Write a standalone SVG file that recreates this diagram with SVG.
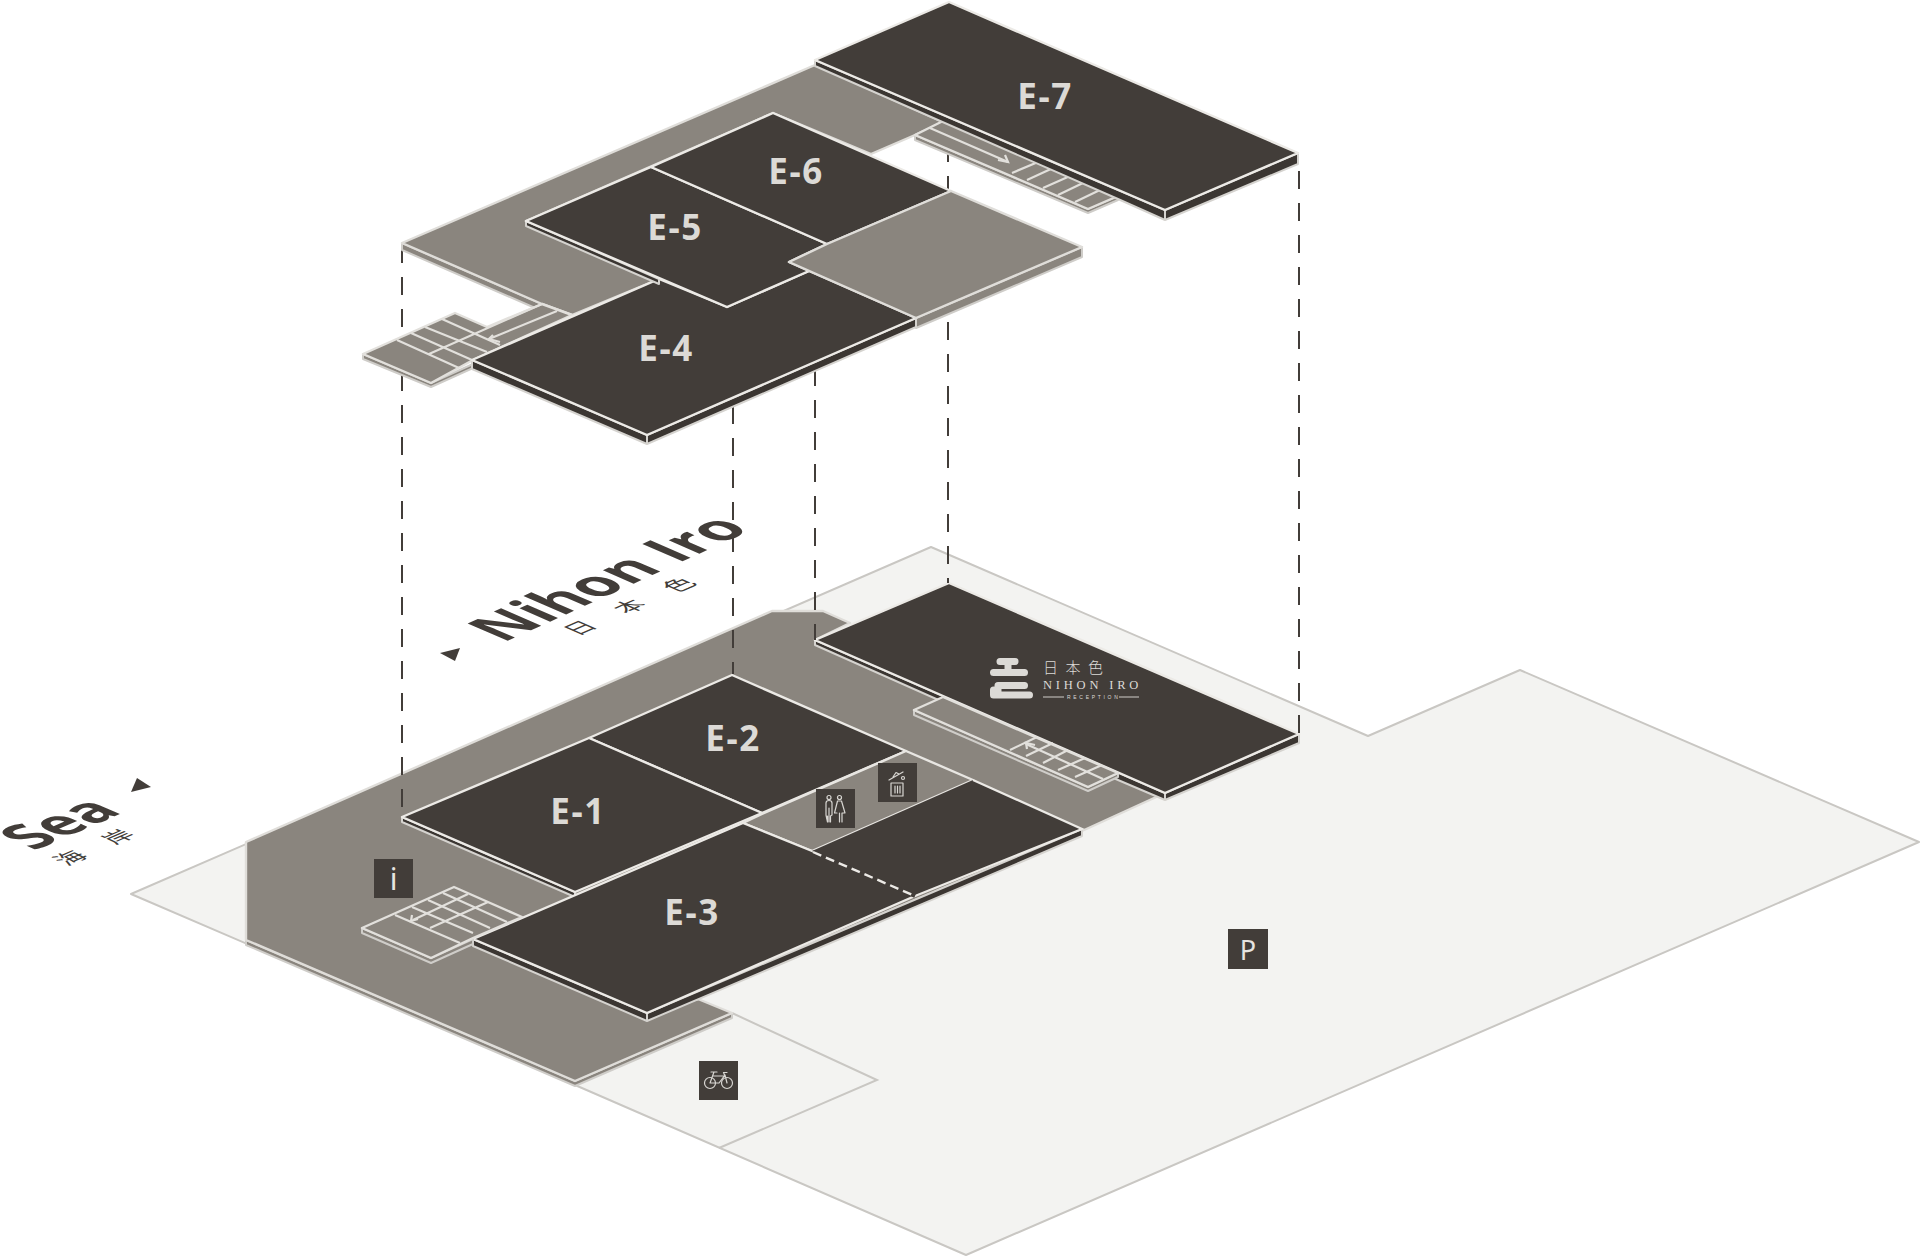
<svg xmlns="http://www.w3.org/2000/svg" width="1920" height="1257" viewBox="0 0 1920 1257">
<style>
.ground{fill:#f3f3f1;stroke:#c9c7c3;stroke-width:2;stroke-linejoin:round}
.div{fill:none;stroke:#c9c7c3;stroke-width:2}
.gray{fill:#8a857e;stroke:#dfddd9;stroke-width:2.400;stroke-linejoin:round}
.gwall{fill:#8a857e;stroke:#cfcdc9;stroke-width:2;stroke-linejoin:round}
.dark{fill:#423d39;stroke:#eceae6;stroke-width:2.400;stroke-linejoin:round}
.wall{fill:#3b3632;stroke:#d5d3cf;stroke-width:2;stroke-linejoin:round}
.ln{fill:none;stroke:#e2e0dc;stroke-width:2.200}
.dash{stroke:#423d39;stroke-width:2;stroke-dasharray:18 14;fill:none}
.lab{font-family:"Noto Sans","Open Sans",sans-serif;font-weight:700;font-size:35px;fill:#dcdad6;text-anchor:middle;letter-spacing:1.500px}
.ico{fill:#423d39}
.ig{fill:none;stroke:#d8d6d2;stroke-width:1.200;stroke-linecap:round;stroke-linejoin:round}
.big{font-family:"Open Sans","Noto Sans",sans-serif;font-weight:700;font-size:48px;fill:#423d39}
.cjk{font-family:"Noto Sans CJK JP",sans-serif;font-weight:400;font-size:19px;fill:#423d39;letter-spacing:24px}
.t{fill:#423d39}
.it{font-family:"Noto Sans","Open Sans",sans-serif;font-size:30px;fill:#e6e4e0;text-anchor:middle}
</style>

<g id="ground">
<polygon class="ground" points="131,894 931,547 1368,736 1520,670 1919,842 966,1255 575,1085"/>
<path class="div" d="M732 1013L877 1080L719 1148"/>
</g>

<g id="lower-floor">
<path class="gwall" d="M246 940L575 1081L732 1013V1018L575 1086L246 945Z"/>
<polygon class="gray" points="246,842 772,611 823,611 850,623 815,640 1165,793 1082,831 915,900 647,1013 698,999 732,1013 575,1081 246,940"/>
</g>

<g id="reception-E7-lower">
<path class="wall" d="M815 640L1165 793L1299 734V743L1165 800L1118 780L815 645ZM1165 793V800"/>
<polygon class="dark" points="949,583 815,640 1165,793 1299,734"/>
<g id="reception-logo">
<path d="M1000 661.500H1015M993.500 672.500H1024.500M1008 661.500V672.500M1024.500 685.500H998V695H1029.500M993.500 690V695H998" fill="none" stroke="#dcdad6" stroke-width="7" stroke-linecap="round" stroke-linejoin="round"/>
<text x="1043" y="673" style="font-family:'Noto Sans CJK JP',sans-serif;font-size:15px;fill:#dcdad6;letter-spacing:7.500px;font-weight:300">日本色</text>
<text x="1043" y="689" style="font-family:'Liberation Serif',serif;font-size:12.500px;fill:#dcdad6;letter-spacing:3.800px">NIHON IRO</text>
<text x="1067" y="699" style="font-family:'Liberation Sans',sans-serif;font-size:5px;fill:#dcdad6;letter-spacing:2.700px">RECEPTION</text>
<path d="M1043 697H1064M1119 697H1139" stroke="#cfcdc9" stroke-width="1.200" fill="none"/>
</g>
</g>

<g id="stairs-lower-right">
<path class="gwall" d="M914 710L1088 787L1118 773V777L1088 791L914 715Z"/>
<polygon class="gray" points="914,710 943,697 1118,773 1088,787" style="stroke:#e2e0dc"/>
<path class="ln" d="M1010 750L1037 737M1026 756L1053 743M1043 763L1068 750M1058 770L1085 758M1075 777L1102 765M1026 744L1103 779"/>
<path class="ln" d="M1027 749L1026 743L1035 745" />
</g>

<g id="E-2">
<polygon class="dark" points="732,675 589,738 762,813 906,751"/>
<text class="lab" x="733" y="751">E-2</text>
</g>
<g id="E-1">
<path class="wall" d="M402 817L575 892V897L402 822Z"/>
<polygon class="dark" points="589,738 402,817 575,892 762,813"/>
<text class="lab" x="578" y="824">E-1</text>
</g>
<g id="service-strip">
<polygon class="gray" points="743,823 762,814 906,751 973,780 812,851" style="stroke:#e8e6e2"/>
</g>
<g id="E-3">
<path class="wall" d="M473 939L647 1013L1082 829V836L647 1021L473 946ZM647 1013V1021"/>
<polygon class="dark" points="473,939 743,823 812,851 915,896 647,1013"/>
<polygon points="812,851 973,780 1082,829 915,896" style="fill:#423d39;stroke:none"/>
<path class="ln" d="M973 780L1082 829L915 896" style="stroke:#eceae6"/>
<path d="M813 852L915 896" fill="none" stroke="#423d39" stroke-width="4"/>
<path d="M813 852L915 896" fill="none" stroke="#eceae6" stroke-width="2.400" stroke-dasharray="9 5"/>
<text class="lab" x="692" y="925">E-3</text>
</g>

<g id="stairs-lower-left">
<path class="gwall" d="M362 928L431 958L473 939V944L431 963L362 933Z"/>
<polygon class="gray" points="362,928 454,887 522,917 473,938 431,958" style="stroke:#e2e0dc"/>
<path class="ln" d="M395 915L460 943M412 907L473 933M428 900L490 928M443 893L507 922M430 928L488 902M413 920L468 894"/>
<path class="ln" d="M412 915L411 921L418 919"/>
</g>

<g id="icon-info"><rect class="ico" x="374" y="859" width="39" height="39"/><text class="it" x="393.500" y="890">i</text></g>
<g id="icon-toilet"><rect class="ico" x="816" y="789" width="39" height="39"/>
<circle class="ig" cx="829" cy="797.500" r="2"/><circle class="ig" cx="839.500" cy="797.500" r="2"/>
<path class="ig" d="M826 815V803Q826 800.500 829 800.500Q832 800.500 832 803V815L830.500 816V822M829 808V822M827.500 816V822L826 815"/>
<path class="ig" d="M837.500 801H841.500L845 813H842V822M839.500 813V822M837 813H834.500L837.500 801"/>
</g>
<g id="icon-trash"><rect class="ico" x="878" y="763" width="39" height="39"/>
<path class="ig" d="M891 783H903V796H891ZM895 786V793M897.500 786V793M900 786V793M889 780L903 772M893 777L896 772.500L899 774"/>
<circle class="ig" cx="903" cy="778" r="1.500"/>
</g>
<g id="icon-bike"><rect class="ico" x="699" y="1061" width="39" height="39"/>
<circle class="ig" cx="710" cy="1083" r="5.500"/><circle class="ig" cx="727" cy="1083" r="5.500"/>
<path class="ig" d="M711 1072H717M714 1072L710 1083H719L725 1075L727 1083M712.500 1076H724.500L719 1083M724.500 1075L723.500 1072.500H727"/>
</g>
<g id="icon-parking"><rect class="ico" x="1228" y="929" width="40" height="40"/><text class="it" x="1248" y="960" style="font-size:27px">P</text></g>

<g id="title-nihon-iro">
<text class="big" transform="matrix(1.1,-0.5,1.17,0.507,503,643)">Nihon Iro</text>
<text class="cjk" transform="matrix(1.15,-0.5,1.15,0.5,577,636)">日本色</text>
<polygon class="t" points="440,653 460,648 455,661"/>
</g>
<g id="title-sea">
<text class="big" transform="matrix(1.07,-0.46,1.17,0.507,34,851)">Sea</text>
<text class="cjk" transform="matrix(1.15,-0.5,1.15,0.5,67,866)" style="letter-spacing:23px">海岸</text>
<polygon class="t" points="137,778 151,787 131,792"/>
</g>

<g id="connectors">
<line class="dash" x1="402" y1="245" x2="402" y2="817"/>
<line class="dash" x1="733" y1="406" x2="733" y2="674"/>
<line class="dash" x1="815" y1="368" x2="815" y2="640"/>
<line class="dash" x1="948" y1="144" x2="948" y2="190"/>
<line class="dash" x1="948" y1="322" x2="948" y2="583"/>
<line class="dash" x1="1299" y1="171" x2="1299" y2="734"/>
</g>

<g id="upper-floor">
<path class="gwall" d="M402 243L542 304V311L402 250Z"/>
<polygon class="gray" points="402,243 815,65 943,122 915,135 871,154 773,113 526,221 659,279 572,315 542,304"/>
<path class="gwall" d="M1082 247V257L916 328V318Z"/>
</g>

<g id="stairs-upper-right">
<path class="gwall" d="M915 135L1088 209L1118 196V200L1088 213L915 140Z"/>
<polygon class="gray" points="915,135 943,121 1118,196 1088,209" style="stroke:#e2e0dc"/>
<path class="ln" d="M930 128L1008 162M1038 162L1012 173M1053 168L1027 180M1070 176L1043 188M1085 182L1058 195M1102 189L1075 202"/>
<path class="ln" d="M1005 155L1008 162L998 160"/>
</g>
<g id="stairs-upper-left">
<path class="gwall" d="M363 354L431 383L473 364V368L431 387L363 359Z"/>
<polygon class="gray" points="363,354 455,313 487,327 542,304 572,315 473,360 431,383" style="stroke:#e2e0dc"/>
<path class="ln" d="M397 340L459 368M411 333L472 360M425 327L487 352M442 319L500 345M429 354L542 304M557 311L489 339"/>
<path class="ln" d="M493 335L489 339L500 342"/>
</g>

<g id="E-4">
<path class="wall" d="M472 360L647 435L916 318V327L647 444L472 369ZM647 435V444"/>
<polygon class="dark" points="659,279 727,307 809,271 916,318 647,435 472,360"/>
<text class="lab" x="666" y="361">E-4</text>
</g>
<g id="E-5">
<path class="wall" d="M526 221L659 279V284L526 226Z"/>
<polygon class="dark" points="526,221 651,167 827,244 789,262 809,271 727,307"/>
<text class="lab" x="675" y="240">E-5</text>
</g>
<g id="E-6">
<polygon class="dark" points="651,167 773,113 951,191 827,244"/>
<text class="lab" x="796" y="184">E-6</text>
</g>
<g id="upper-terrace">
<polygon class="gray" points="951,191 1082,247 916,318 789,262 827,244"/>
</g>
<g id="E-7">
<path class="wall" d="M815 60L1165 210L1298 153V164L1165 220L1118 199L815 66ZM1165 210V220"/>
<polygon class="dark" points="949,2 815,60 1165,210 1298,153"/>
<text class="lab" x="1045" y="109">E-7</text>
</g>
</svg>
